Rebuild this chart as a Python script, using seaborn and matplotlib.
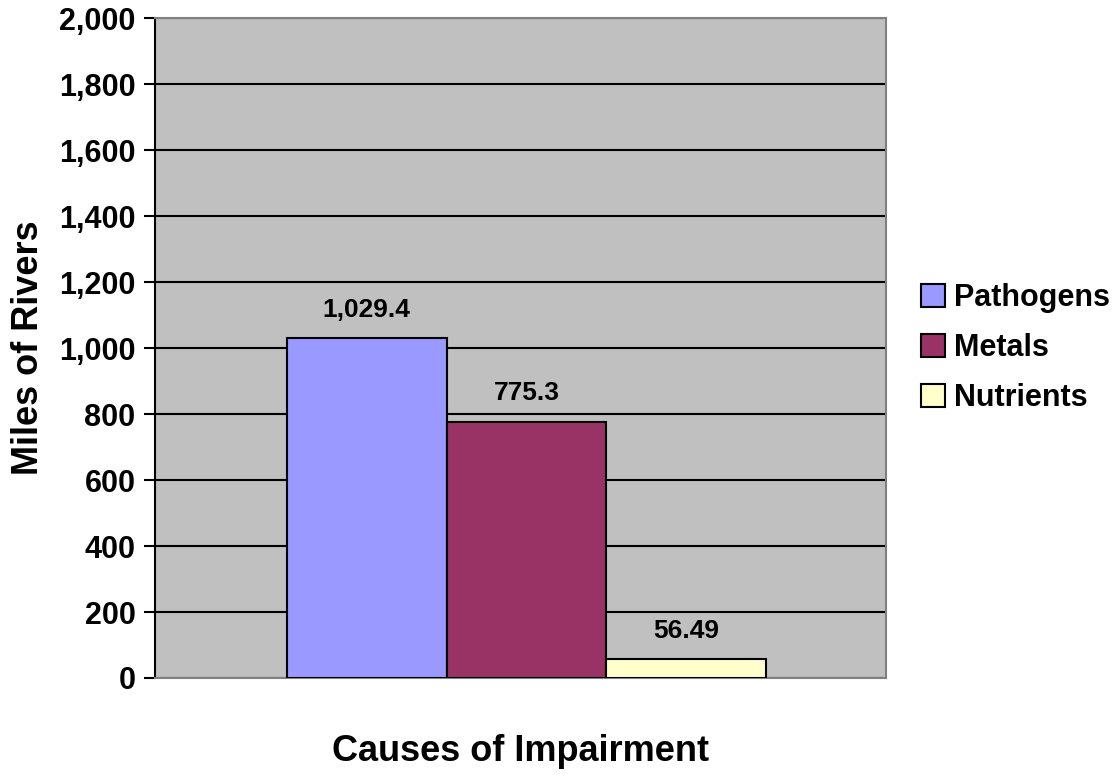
import pandas as pd
import seaborn as sns
import matplotlib.pyplot as plt
from matplotlib.ticker import FuncFormatter

# data
causes = ['Pathogens', 'Metals', 'Nutrients']
miles = [1029.4, 775.3, 56.49]
value_labels = ['1,029.4', '775.3', '56.49']
colors = ['#9999FF', '#993366', '#FFFFCC']


def main():
    sns.set_style('white')
    plt.rcParams['font.family'] = ['Liberation Sans', 'DejaVu Sans']
    plt.rcParams['font.weight'] = 'bold'
    for key in ['text.color', 'axes.labelcolor', 'xtick.color', 'ytick.color']:
        plt.rcParams[key] = 'black'

    df = pd.DataFrame({'group': [''] * 3, 'cause': causes, 'miles': miles})

    fig = plt.figure(figsize=(11.12, 7.83), dpi=100)
    ax = fig.add_axes([0.1394, 0.1341, 0.6574, 0.8429])
    ax.set_facecolor('#C0C0C0')

    sns.barplot(data=df, x='group', y='miles', hue='cause', palette=colors,
                width=0.8, edgecolor='black', linewidth=1.5, saturation=1,
                legend=True, ax=ax, zorder=3)

    for cont, lab in zip(ax.containers, value_labels):
        ax.bar_label(cont, labels=[lab], padding=12, fontsize=19, fontweight='bold')

    ax.set_ylim(0, 2000)
    ax.set_xlim(-0.62, 0.6)
    ax.set_yticks(range(0, 2001, 200))
    ax.yaxis.set_major_formatter(FuncFormatter(lambda v, p: f'{int(v):,}'))
    ax.yaxis.grid(True, color='black', linewidth=1.5, zorder=1)
    ax.set_axisbelow(True)
    ax.tick_params(axis='y', left=True, length=8, width=1.5, labelsize=22, pad=6)
    ax.tick_params(axis='x', bottom=False, labelbottom=False)
    for lbl in ax.get_yticklabels():
        lbl.set_fontweight('bold')

    for side in ['top', 'right', 'bottom']:
        ax.spines[side].set_color('#808080')
        ax.spines[side].set_linewidth(1.5)
    ax.spines['left'].set_color('black')
    ax.spines['left'].set_linewidth(1.5)

    ax.set_ylabel('Miles of Rivers', fontsize=26, fontweight='bold', labelpad=9)
    ax.set_xlabel('Causes of Impairment', fontsize=26, fontweight='bold', labelpad=40)

    ax.legend(loc='center left', bbox_to_anchor=(0.817, 0.5556), bbox_transform=fig.transFigure,
              frameon=False, fontsize=22, handlelength=0.8, handleheight=0.8,
              handletextpad=0.3, labelspacing=0.65, borderaxespad=0)
    for t in ax.get_legend().get_texts():
        t.set_fontweight('bold')

    fig.savefig('out.png', dpi=100)


main()
